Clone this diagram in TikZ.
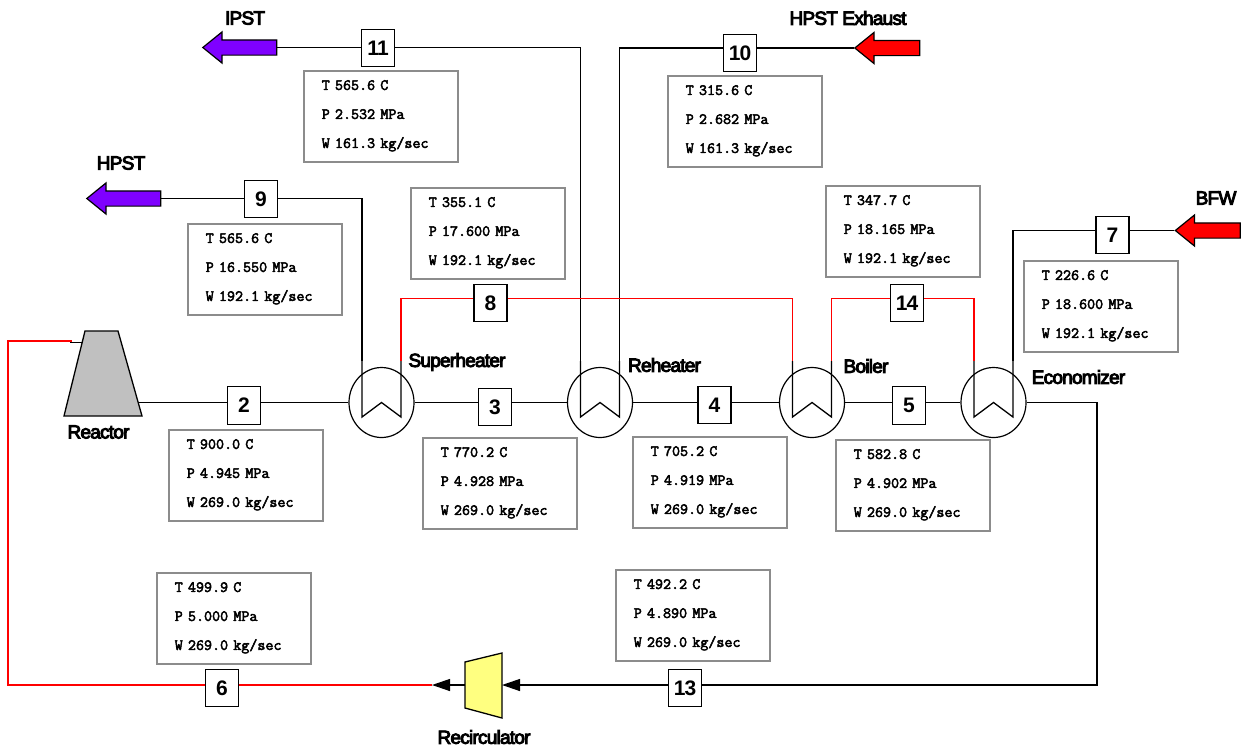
\documentclass[tikz,border=0pt]{standalone}
\usepackage{fontspec}
\usepackage{tikz}
\usetikzlibrary{arrows.meta,shapes.geometric,shapes.arrows}
\newfontfamily\labelfont[LetterSpace=-4,FakeBold=5]{Liberation Sans}
\newfontfamily\numfont[LetterSpace=-4]{Liberation Sans Bold}
\newfontfamily\statefont[FakeBold=3]{Latin Modern Mono}
\newcommand{\statetext}[3]{T #1 C\\P #2 MPa\\W #3 kg/sec\rule[-5pt]{0pt}{1pt}}
\definecolor{steampurple}{HTML}{7F00FF}
\definecolor{reactorgray}{HTML}{C0C0C0}
\definecolor{pumpyellow}{HTML}{FFFF80}
\tikzset{
	pipe/.style={draw=black,line width=1.3pt},
	hotpipe/.style={draw=red,line width=1.3pt},
	streambox/.style={draw=black,line width=1.3pt,fill=white,minimum width=33pt,minimum height=37.5pt,inner sep=0pt,font=\numfont\fontsize{21}{21}\selectfont},
	statebox/.style={draw=black!45,line width=1.5pt,anchor=north west,xshift=-0.7pt,yshift=0.7pt,minimum width=154pt,minimum height=91pt,inner xsep=17.7pt,inner ysep=0pt,text width=118.6pt,align=left,font=\statefont\fontsize{15.6}{29}\selectfont},
	exchanger/.style={ellipse,draw=black,line width=1.2pt,minimum width=65pt,minimum height=70pt,inner sep=0pt},
	label/.style={inner sep=0pt,font=\labelfont\fontsize{19}{19}\selectfont},
	flowarrow/.style={single arrow,draw=black,line width=1.2pt,minimum height=74pt,inner xsep=0pt,inner ysep=7pt,single arrow head extend=8pt,single arrow tip angle=78},
	pumptip/.style={-{Triangle[length=18pt,width=12pt]}}
}
\begin{document}
\begin{tikzpicture}[x=1pt,y=-1pt]
	\useasboundingbox (0,0) rectangle (1241,748);

	\node[exchanger] (superheater) at (381.5,402.5) {};
	\node[exchanger] (reheater) at (600,402.5) {};
	\node[exchanger] (boiler) at (812,402.5) {};
	\node[exchanger] (economizer) at (993.5,402.5) {};
	\foreach \cx in {381.5,600,812,993.5}
		\draw[pipe] (\cx-19.5,361) -- (\cx-19.5,417) -- (\cx,402.5) -- (\cx+19.5,417) -- (\cx+19.5,361);

	\draw[pipe,fill=reactorgray] (85,331) -- (118,331) -- (142,416) -- (64,416) -- cycle;
	\draw[pipe,fill=pumpyellow] (465,662) -- (502,653) -- (502,718) -- (465,708) -- cycle;
	\coordinate (reactorout) at (139,402.5);
	\coordinate (reactorin) at (83,342.5);
	\coordinate (reactorstub) at (70,342.5);
	\coordinate (reactorred) at (72,341);
	\coordinate (recircin) at (502,685);
	\coordinate (recircleft) at (465,685);
	\coordinate (recircout) at (432,685);
	\coordinate (shleft) at (362,361);
	\coordinate (shright) at (401,361);
	\coordinate (rhleft) at (580.5,361);
	\coordinate (rhright) at (619.5,361);
	\coordinate (bleft) at (792.5,361);
	\coordinate (bright) at (831.5,361);
	\coordinate (ecleft) at (974,361);
	\coordinate (ecright) at (1013,361);

	\node[flowarrow,fill=steampurple,shape border rotate=180] (ipst) at (244.5,47.5) {};
	\node[flowarrow,fill=steampurple,shape border rotate=180] (hpst) at (128.5,198.5) {};
	\node[flowarrow,fill=red,shape border rotate=180,minimum height=65pt] (hpstexhaust) at (892,48) {};
	\node[flowarrow,fill=red,shape border rotate=180,minimum height=65pt] (bfw) at (1212.5,230.5) {};

	\node[streambox] (s2) at (244,405.5) {2};
	\node[streambox] (s3) at (495,407) {3};
	\node[streambox] (s4) at (714.5,405) {4};
	\node[streambox] (s5) at (909,405.5) {5};
	\node[streambox] (s6) at (222,688) {6};
	\node[streambox] (s7) at (1112.5,235) {7};
	\node[streambox] (s8) at (490.5,303) {8};
	\node[streambox] (s9) at (261,199) {9};
	\node[streambox] (s10) at (740,53) {10};
	\node[streambox] (s11) at (378,48) {11};
	\node[streambox] (s13) at (685,688) {13};
	\node[streambox] (s14) at (907,303) {14};

	\draw[pipe] (reactorout) -- (s2.west |- superheater);
	\draw[pipe] (s2.east |- superheater) -- (superheater.west);
	\draw[pipe] (superheater.east) -- (s3.west |- superheater);
	\draw[pipe] (s3.east |- superheater) -- (reheater.west);
	\draw[pipe] (reheater.east) -- (s4.west |- reheater);
	\draw[pipe] (s4.east |- reheater) -- (boiler.west);
	\draw[pipe] (boiler.east) -- (s5.west |- boiler);
	\draw[pipe] (s5.east |- boiler) -- (economizer.west);
	\draw[pipe] (economizer.east) -- (1097,402.5) -- (1097,685) -- (s13.east |- recircin);
	\draw[pipe,pumptip] (s13.west |- recircin) -- (recircin);
	\draw[pipe,pumptip] (recircleft) -- (recircout);
	\draw[hotpipe] (recircout) -- (s6.east |- recircout);
	\draw[hotpipe] (s6.west |- recircout) -- (8,685) -- (8,341) -- (reactorred);
	\draw[pipe] (reactorstub) -- (reactorin);

	\draw[pipe] (hpst.tail) -- (s9.west |- hpst);
	\draw[pipe] (s9.east |- hpst) -- (362,198.5) -- (shleft);
	\draw[pipe] (ipst.tail) -- (s11.west |- ipst);
	\draw[pipe] (s11.east |- ipst) -- (580.5,47.5) -- (rhleft);
	\draw[pipe] (hpstexhaust.tip) -- (s10.east |- hpstexhaust);
	\draw[pipe] (s10.west |- hpstexhaust) -- (619.5,48) -- (rhright);
	\draw[pipe] (bfw.tip) -- (s7.east |- bfw);
	\draw[pipe] (s7.west |- bfw) -- (1013,230.5) -- (ecright);

	\draw[hotpipe] (shright) -- (401,298.5) -- (s8.west |- 0,298.5);
	\draw[hotpipe] (s8.east |- 0,298.5) -- (792.5,298.5) -- (bleft);
	\draw[hotpipe] (bright) -- (831.5,298.5) -- (s14.west |- 0,298.5);
	\draw[hotpipe] (s14.east |- 0,298.5) -- (974,298.5) -- (ecleft);

	\node[statebox] (data2) at (169,430) {\statetext{900.0}{4.945}{269.0}};
	\node[statebox] (data3) at (423,438) {\statetext{770.2}{4.928}{269.0}};
	\node[statebox] (data4) at (633,437) {\statetext{705.2}{4.919}{269.0}};
	\node[statebox] (data5) at (836,440) {\statetext{582.8}{4.902}{269.0}};
	\node[statebox] (data6) at (157,573) {\statetext{499.9}{5.000}{269.0}};
	\node[statebox] (data7) at (1024,261) {\statetext{226.6}{18.600}{192.1}};
	\node[statebox] (data8) at (411,188) {\statetext{355.1}{17.600}{192.1}};
	\node[statebox] (data9) at (188,224) {\statetext{565.6}{16.550}{192.1}};
	\node[statebox] (data10) at (668,76) {\statetext{315.6}{2.682}{161.3}};
	\node[statebox] (data11) at (304,71) {\statetext{565.6}{2.532}{161.3}};
	\node[statebox] (data13) at (616,570) {\statetext{492.2}{4.890}{269.0}};
	\node[statebox] (data14) at (826,186) {\statetext{347.7}{18.165}{192.1}};

	\node[label] (reactorlabel) at (98.5,432) {Reactor};
	\node[label] (superheaterlabel) at (457,362) {Superheater};
	\node[label] (reheaterlabel) at (664.5,365) {Reheater};
	\node[label] (boilerlabel) at (866,366) {Boiler};
	\node[label] (economizerlabel) at (1078.5,377) {Economizer};
	\node[label] (recirclabel) at (484,737) {Recirculator};
	\node[label] (ipstlabel) at (245,18) {IPST};
	\node[label] (hpstlabel) at (121,163) {HPST};
	\node[label] (hpstexhaustlabel) at (848,18) {HPST Exhaust};
	\node[label] (bfwlabel) at (1216,198) {BFW};
\end{tikzpicture}
\end{document}
